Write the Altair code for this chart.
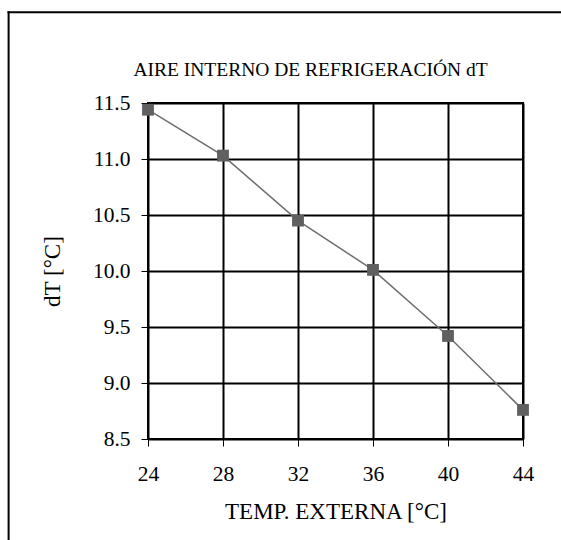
import altair as alt
import pandas as pd

temp = [24, 28, 32, 36, 40, 44]
dT = [11.44, 11.03, 10.45, 10.01, 9.42, 8.76]
x_ticks = [24, 28, 32, 36, 40, 44]
y_ticks = [8.5, 8.75, 9.0, 9.25, 9.5, 9.75, 10.0, 10.25, 10.5, 10.75, 11.0, 11.25, 11.5]
chart_title = ["AIRE INTERNO DE REFRIGERACIÓN dT"]

df = pd.DataFrame({"temp": temp, "dT": dT})
FONT = "Liberation Serif"

x_enc = alt.X(
    "temp:Q",
    scale=alt.Scale(domain=[24, 44], nice=False, zero=False),
    axis=alt.Axis(
        values=x_ticks, title="TEMP. EXTERNA [°C]", format="d",
        tickSize=7, tickColor="black", tickWidth=1,
        labelPadding=17.5, titlePadding=15, labelFlush=False,
        grid=True, gridColor="black", gridWidth=2, domain=False,
    ),
)
y_enc = alt.Y(
    "dT:Q",
    scale=alt.Scale(domain=[8.5, 11.5], nice=False, zero=False),
    axis=alt.Axis(
        values=y_ticks, title="dT [°C]",
        labelExpr="datum.value % 0.5 == 0 ? format(datum.value, '.1f') : ''",
        tickSize=7, tickColor="black", tickWidth=1,
        labelPadding=11, titlePadding=28, labelFlush=False,
        grid=True, gridColor="black", gridWidth=2, domain=False,
        gridOpacity={"condition": {"test": "datum.value % 0.5 != 0", "value": 0}, "value": 1},
    ),
)

line = alt.Chart(df).mark_line(color="#6e6e6e", strokeWidth=1.5).encode(x=x_enc, y=y_enc)
pts = alt.Chart(df).mark_point(shape="square", filled=True, size=140, color="#606060", opacity=1).encode(
    x="temp:Q", y="dT:Q"
)

frame = alt.Data(values=[{}])
top_line = alt.Chart(frame).mark_rule(color="black", strokeWidth=2).encode(
    x=alt.value(-140.5), x2=alt.value(440), y=alt.value(-90.7)
)
left_line = alt.Chart(frame).mark_rule(color="black", strokeWidth=2).encode(
    x=alt.value(-139.4), y=alt.value(-91.7), y2=alt.value(460)
)
title_txt = alt.Chart(alt.Data(values=[{"t": t} for t in chart_title])).mark_text(
    font=FONT, fontSize=19.5, color="black", align="center", baseline="alphabetic"
).encode(text="t:N", x=alt.value(162.5), y=alt.value(-27))

chart = alt.layer(line, pts, top_line, left_line, title_txt).properties(
    width=375, height=336,
    background="white",
    autosize=alt.AutoSizeParams(type="none"),
    padding={"left": 148, "top": 103, "right": 38, "bottom": 101},
).configure_view(stroke="black", strokeWidth=2).configure_axis(
    labelFont=FONT, titleFont=FONT, labelFontSize=21.5, titleFontSize=23,
    labelColor="black", titleColor="black", titleFontWeight="normal",
)

chart.save("out.html", embed_options={"renderer": "svg", "actions": False})
